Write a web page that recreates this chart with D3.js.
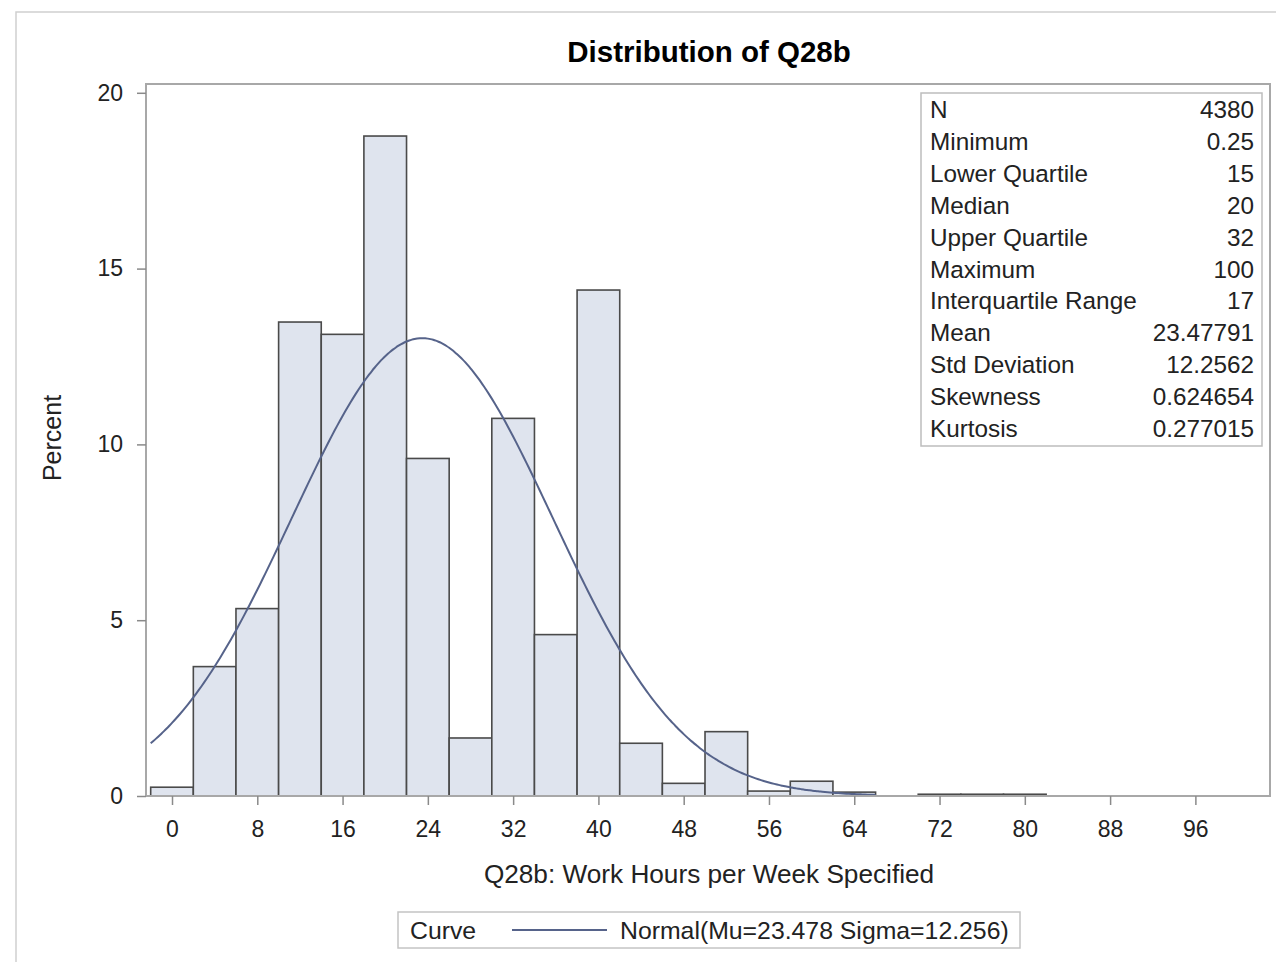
<!DOCTYPE html>
<html>
<head>
<meta charset="utf-8">
<script src="https://cdn.jsdelivr.net/npm/d3@7/dist/d3.min.js"></script>
<style>
  html, body { margin: 0; padding: 0; background: #fff; }
  svg { display: block; font-family: "Liberation Sans", Arial, sans-serif; }
</style>
</head>
<body>
<svg id="chart" width="1276" height="962"></svg>
<script>
// Histogram bins: midpoints (hours) and percent of observations
const binMidpoints = [0, 4, 8, 12, 16, 20, 24, 28, 32, 36, 40, 44, 48, 52, 56, 60, 64, 68, 72, 76, 80];
const binPercents  = [0.25, 3.68, 5.33, 13.48, 13.13, 18.77, 9.60, 1.65, 10.74, 4.59, 14.39, 1.50, 0.36, 1.83, 0.14, 0.42, 0.11, 0, 0.05, 0.05, 0.05];
const binWidth = 4;

// Fitted normal curve parameters
const mu = 23.478;
const sigma = 12.256;
const curveRange = [-2, 66];

// Axis ticks
const xTicks = [0, 8, 16, 24, 32, 40, 48, 56, 64, 72, 80, 88, 96];
const yTicks = [0, 5, 10, 15, 20];

// Summary statistics inset
const statLabels = ["N", "Minimum", "Lower Quartile", "Median", "Upper Quartile", "Maximum",
                    "Interquartile Range", "Mean", "Std Deviation", "Skewness", "Kurtosis"];
const statValues = ["4380", "0.25", "15", "20", "32", "100", "17", "23.47791", "12.2562", "0.624654", "0.277015"];

const svg = d3.select("#chart");

// Outer graph border
svg.append("rect")
  .attr("x", 16).attr("y", 12).attr("width", 1300).attr("height", 1000)
  .attr("fill", "none").attr("stroke", "#cfcfcf").attr("stroke-width", 1.5);

const plot = { left: 146, right: 1270, top: 84, bottom: 796 };

const x = d3.scaleLinear().domain([-2.44, 103.0]).range([plot.left, plot.right]);
const y = d3.scaleLinear().domain([0, 20.25]).range([plot.bottom, plot.top]);

// Title
svg.append("text")
  .attr("x", 709).attr("y", 62)
  .attr("text-anchor", "middle")
  .attr("font-size", 29.5).attr("font-weight", "bold").attr("fill", "#000")
  .text("Distribution of Q28b");

// Bars
const bins = binMidpoints.map((m, i) => ({ mid: m, pct: binPercents[i] }));
svg.append("g")
  .selectAll("rect")
  .data(bins.filter(d => d.pct > 0))
  .join("rect")
  .attr("x", d => x(d.mid - binWidth / 2))
  .attr("width", d => x(d.mid + binWidth / 2) - x(d.mid - binWidth / 2))
  .attr("y", d => y(d.pct))
  .attr("height", d => y(0) - y(d.pct))
  .attr("fill", "#dfe4ee")
  .attr("stroke", "#4a4a4a")
  .attr("stroke-width", 1.6);

// Normal density scaled to percent per bin
const normalPct = v => 100 * binWidth * Math.exp(-0.5 * ((v - mu) / sigma) ** 2) / (sigma * Math.sqrt(2 * Math.PI));
const curvePts = d3.range(curveRange[0], curveRange[1] + 0.001, 0.25).map(v => [v, normalPct(v)]);
svg.append("path")
  .datum(curvePts)
  .attr("fill", "none")
  .attr("stroke", "#56638a")
  .attr("stroke-width", 2)
  .attr("d", d3.line().x(d => x(d[0])).y(d => y(d[1])).curve(d3.curveMonotoneX));

// Plot frame
svg.append("rect")
  .attr("x", plot.left).attr("y", plot.top)
  .attr("width", plot.right - plot.left).attr("height", plot.bottom - plot.top)
  .attr("fill", "none").attr("stroke", "#a8a8a8").attr("stroke-width", 2);

// Y axis
const yAxis = svg.append("g")
  .attr("transform", `translate(${plot.left},0)`)
  .call(d3.axisLeft(y).tickValues(yTicks).tickSize(9).tickPadding(14).tickFormat(d3.format("d")));
yAxis.select(".domain").remove();
yAxis.selectAll(".tick line").attr("stroke", "#8a8a8a").attr("stroke-width", 1.5);
yAxis.selectAll(".tick text")
  .attr("font-family", "Liberation Sans, Arial, sans-serif")
  .attr("font-size", 23).attr("fill", "#222");

// X axis
const xAxis = svg.append("g")
  .attr("transform", `translate(0,${plot.bottom})`)
  .call(d3.axisBottom(x).tickValues(xTicks).tickSize(9).tickPadding(16).tickFormat(d3.format("d")));
xAxis.select(".domain").remove();
xAxis.selectAll(".tick line").attr("stroke", "#8a8a8a").attr("stroke-width", 1.5);
xAxis.selectAll(".tick text")
  .attr("font-family", "Liberation Sans, Arial, sans-serif")
  .attr("font-size", 23).attr("fill", "#222");

// Axis labels
svg.append("text")
  .attr("x", 709).attr("y", 883)
  .attr("text-anchor", "middle")
  .attr("font-size", 26.2).attr("fill", "#222")
  .text("Q28b: Work Hours per Week Specified");

svg.append("text")
  .attr("transform", "translate(61,438) rotate(-90)")
  .attr("text-anchor", "middle")
  .attr("font-size", 25).attr("fill", "#222")
  .text("Percent");

// Statistics inset
const inset = svg.append("g");
inset.append("rect")
  .attr("x", 921).attr("y", 93).attr("width", 341).attr("height", 353)
  .attr("fill", "#fff").attr("stroke", "#bdbdbd").attr("stroke-width", 1.5);
const rowY = d3.scalePoint().domain(statLabels).range([118, 437]);
inset.selectAll("text.lab")
  .data(statLabels)
  .join("text")
  .attr("class", "lab")
  .attr("x", 930).attr("y", d => rowY(d))
  .attr("font-size", 24.3).attr("fill", "#222")
  .text(d => d);
inset.selectAll("text.val")
  .data(statLabels)
  .join("text")
  .attr("class", "val")
  .attr("x", 1254).attr("y", d => rowY(d))
  .attr("text-anchor", "end")
  .attr("font-size", 24.3).attr("fill", "#222")
  .text((d, i) => statValues[i]);

// Legend
const legend = svg.append("g");
legend.append("rect")
  .attr("x", 398).attr("y", 912).attr("width", 622).attr("height", 36)
  .attr("fill", "#fff").attr("stroke", "#c4c4c4").attr("stroke-width", 1.5);
legend.append("text")
  .attr("x", 410).attr("y", 939)
  .attr("font-size", 24.8).attr("fill", "#222")
  .text("Curve");
legend.append("line")
  .attr("x1", 512).attr("x2", 607).attr("y1", 930).attr("y2", 930)
  .attr("stroke", "#56638a").attr("stroke-width", 2);
legend.append("text")
  .attr("x", 620).attr("y", 939)
  .attr("font-size", 24.8).attr("fill", "#222")
  .text(`Normal(Mu=${mu} Sigma=${sigma})`);
</script>
</body>
</html>
